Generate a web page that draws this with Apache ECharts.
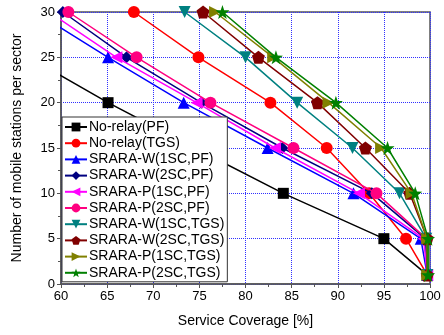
<!DOCTYPE html>
<html>
<head>
<meta charset="utf-8">
<script src="https://cdn.jsdelivr.net/npm/echarts@6/dist/echarts.min.js"></script>
<style>
  html, body { margin: 0; padding: 0; background: #fff; }
  #chart { width: 444px; height: 335px; }
</style>
</head>
<body>
<div id="chart"></div>
<script>
// stations per sector (y) shared by every curve
const yLevels = [30, 25, 20, 15, 10, 5, 1];

// service coverage [%], one array per scheme
const noRelayPF = [48.0, 56.5, 65.1, 74.5, 84.1, 95.0, 99.7];
const noRelayTGS = [67.9, 74.9, 82.7, 88.8, 93.4, 97.4, 99.7];
const wPF1 = [57.2, 65.1, 73.3, 82.4, 91.7, 99.0, 99.7];
const wPF2 = [60.2, 67.1, 75.2, 84.0, 93.7, 99.5, 99.7];
const pPF1 = [58.7, 66.0, 74.7, 83.2, 92.3, 99.3, 99.7];
const pPF2 = [60.8, 68.2, 76.2, 85.2, 94.2, 99.6, 99.7];
const wTGS1 = [73.4, 80.0, 85.6, 91.6, 96.7, 99.6, 99.7];
const wTGS2 = [75.4, 81.4, 87.8, 93.0, 97.8, 99.7, 99.7];
const pTGS1 = [76.7, 83.0, 89.0, 94.7, 98.0, 99.7, 99.7];
const pTGS2 = [77.5, 83.3, 89.8, 95.4, 98.4, 99.8, 99.8];

const names = [
  "No-relay(PF)", "No-relay(TGS)",
  "SRARA-W(1SC,PF)", "SRARA-W(2SC,PF)",
  "SRARA-P(1SC,PF)", "SRARA-P(2SC,PF)",
  "SRARA-W(1SC,TGS)", "SRARA-W(2SC,TGS)",
  "SRARA-P(1SC,TGS)", "SRARA-P(2SC,TGS)"
];
const xs = [noRelayPF, noRelayTGS, wPF1, wPF2, pPF1, pPF2, wTGS1, wTGS2, pTGS1, pTGS2];
const colors = ["#000000", "#ff0000", "#0000ff", "#000080", "#ff00ff",
                "#ff0080", "#008080", "#800000", "#808000", "#008000"];

const pentagon = "path://M50,0 L97.6,34.5 L79.4,90.5 L20.6,90.5 L2.4,34.5 Z";
const star = "path://M50,0 L61.76,33.82 L97.55,34.55 L69.02,56.18 L79.39,90.45 L50,70 L20.61,90.45 L30.98,56.18 L2.45,34.55 L38.24,33.82 Z";
// symbol, rotation, size
const marks = [
  ["rect", 0, 11], ["circle", 0, 12], ["triangle", 0, 12], ["diamond", 0, 12],
  ["triangle", 90, 12], ["circle", 0, 12], ["triangle", 180, 12],
  [pentagon, 0, 13], ["triangle", -90, 12], [star, 0, 14]
];

const font = "'Liberation Sans', Arial, sans-serif";

const series = names.map((name, i) => ({
  name: name,
  type: "line",
  data: xs[i].map((x, j) => [x, yLevels[j]]),
  symbol: marks[i][0],
  symbolRotate: marks[i][1],
  symbolSize: marks[i][2],
  showAllSymbol: true,
  clip: true,
  lineStyle: { color: colors[i], width: 1.5 },
  itemStyle: { color: colors[i] },
  z: 2 + i * 0.01
}));

const chart = echarts.init(document.getElementById("chart"));
chart.setOption({
  animation: false,
  grid: {
    left: 61, right: 14, top: 12, bottom: 51,
    show: true, borderColor: "#555", borderWidth: 1.5, backgroundColor: "transparent"
  },
  legend: {
    data: names,
    orient: "vertical",
    left: 62, top: 117,
    padding: [3, 3, 2, 2],
    itemGap: 2.2,
    itemWidth: 22, itemHeight: 11,
    backgroundColor: "#fff",
    borderColor: "#333", borderWidth: 1,
    textStyle: { fontFamily: font, fontSize: 14, lineHeight: 14, color: "#000", padding: [0, 0, 0, -3] },
    z: 10
  },
  xAxis: {
    type: "value",
    min: 60, max: 100, interval: 5,
    name: "Service Coverage [%]",
    nameLocation: "middle",
    nameGap: 30,
    nameTextStyle: { fontFamily: font, fontSize: 14, color: "#000" },
    axisLine: { show: true, lineStyle: { color: "#555", width: 1.5 } },
    axisTick: { show: true, length: 4, lineStyle: { color: "#555" } },
    minorTick: { show: true, splitNumber: 2, length: 3, lineStyle: { color: "#555" } },
    axisLabel: { fontFamily: font, fontSize: 13, color: "#000", margin: 6 },
    splitLine: { show: true, lineStyle: { color: "#3030ff", type: "dotted", width: 1 } }
  },
  yAxis: {
    type: "value",
    min: 0, max: 30, interval: 5,
    name: "Number of mobile stations per sector",
    nameLocation: "middle",
    nameGap: 37,
    nameTextStyle: { fontFamily: font, fontSize: 14, color: "#000" },
    axisLine: { show: true, lineStyle: { color: "#555", width: 1.5 } },
    axisTick: { show: true, length: 4, lineStyle: { color: "#555" } },
    minorTick: { show: true, splitNumber: 2, length: 3, lineStyle: { color: "#555" } },
    axisLabel: { fontFamily: font, fontSize: 13, color: "#000", margin: 6 },
    splitLine: { show: true, lineStyle: { color: "#3030ff", type: "dotted", width: 1 } }
  },
  series: series
});
</script>
</body>
</html>
